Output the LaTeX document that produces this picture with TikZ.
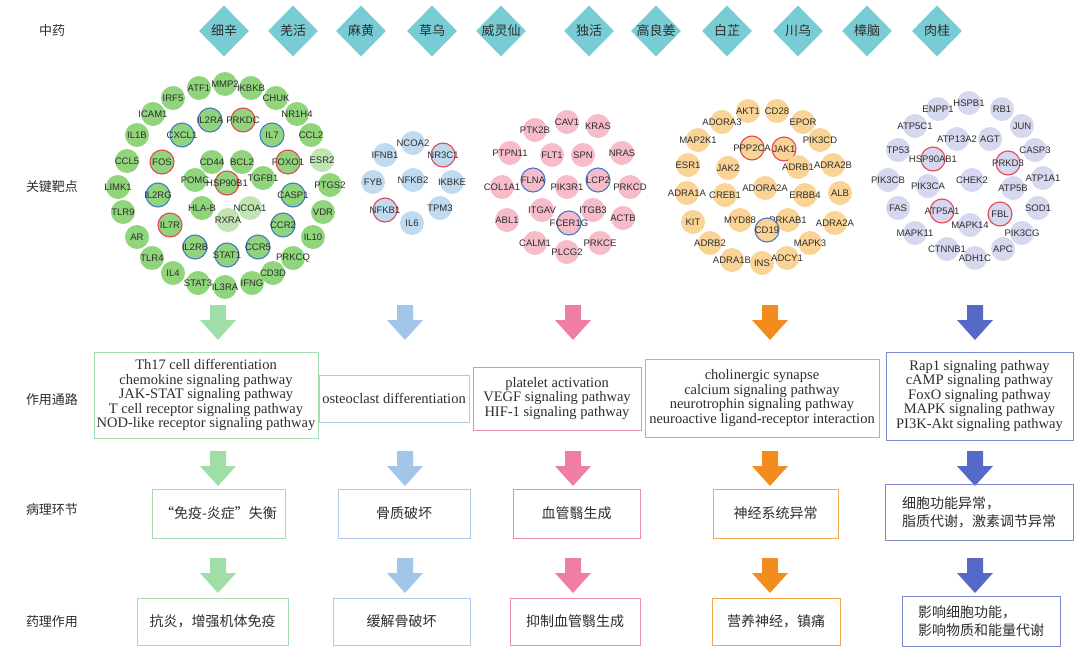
\documentclass[tikz,border=0pt]{standalone}
\usepackage{fontspec}
\setmainfont{Liberation Serif}
\newfontfamily\cjk{Noto Sans CJK SC}
\newfontfamily\gfont{Liberation Sans}
\usetikzlibrary{shapes.geometric}
\definecolor{dia}{RGB}{122,204,212}
\definecolor{gn}{RGB}{144,212,124}
\definecolor{gnl}{RGB}{192,228,178}
\definecolor{bl}{RGB}{192,218,240}
\definecolor{pk}{RGB}{246,188,202}
\definecolor{og}{RGB}{250,212,150}
\definecolor{pu}{RGB}{214,216,240}
\definecolor{ringr}{RGB}{228,70,85}
\definecolor{ringb}{RGB}{70,120,200}
\definecolor{agn}{RGB}{160,222,168}
\definecolor{abl}{RGB}{162,198,234}
\definecolor{apk}{RGB}{240,125,165}
\definecolor{aog}{RGB}{242,140,30}
\definecolor{apu}{RGB}{85,105,200}
\definecolor{bgn}{RGB}{165,222,180}
\definecolor{bbl}{RGB}{172,202,236}
\definecolor{bpk}{RGB}{240,140,175}
\definecolor{bog}{RGB}{245,165,80}
\definecolor{bpu}{RGB}{125,135,212}
\definecolor{txt}{RGB}{45,45,45}
\tikzset{
  gene/.style={circle, minimum size=24pt, inner sep=0pt, font=\gfont\fontsize{9.5}{9.5}\selectfont, text=txt},
  rr/.style={draw=ringr, line width=1.1pt},
  rb/.style={draw=ringb, line width=1.1pt},
  nn/.style={},
  lt/.style={fill=gnl},
  dmd/.style={diamond, fill=dia, minimum width=50pt, minimum height=51pt, inner sep=0pt},
  dlab/.style={font=\cjk\fontsize{13}{15}\selectfont, text=txt},
  rowlab/.style={font=\cjk\fontsize{13}{15}\selectfont, text=txt},
  pbox/.style={draw, line width=0.9pt, align=center, inner sep=0pt, text=txt, font=\fontsize{14.5}{14.5}\selectfont},
  cbox/.style={draw, line width=0.9pt, inner sep=0pt, text=txt, font=\cjk\fontsize{14}{18}\selectfont},
  barrow/.pic={\fill (-8,0) -- (8,0) -- (8,15) -- (18,15) -- (0,35) -- (-18,15) -- (-8,15) -- cycle;}
}
\begin{document}
\begin{tikzpicture}[x=1pt, y=-1pt]
\useasboundingbox (0,0) rectangle (1080,654);
% row labels
\node[rowlab] (l1) at (52,31) {中药};
\node[rowlab] (l2) at (52,187) {关键靶点};
\node[rowlab] (l3) at (52,400) {作用通路};
\node[rowlab] (l4) at (52,510) {病理环节};
\node[rowlab] (l5) at (52,622) {药理作用};
% herbs
\foreach \n/\x/\t in {h1/224/细辛, h2/293/羌活, h3/361/麻黄, h4/432/草乌, h5/501/威灵仙, h6/589/独活, h7/656/高良姜, h8/727/白芷, h9/798/川乌, h10/867/樟脑, h11/937/肉桂}
  \node[dmd, label={[dlab]center:\t}] (\n) at (\x,31) {};
% green cluster
\foreach \n/\x/\y/\s in {ATF1/199/88/nn, MMP2/225/84/nn, IKBKB/251/88/nn, IRF5/173/98/nn, CHUK/276/98/nn,
  ICAM1/153/114/nn, NR1H4/297/114/nn, IL2RA/210/120/rb, PRKDC/243/120/rr, IL1B/137/135/nn, CXCL1/182/135/rb,
  IL7/272/135/rb, CCL2/311/135/nn, CCL5/127/161/nn, FOS/162/162/rr, CD44/212/162/nn, BCL2/242/162/nn,
  FOXO1/288/162/rr, ESR2/322/160/lt, POMC/195/180/nn, HSP90B1/227/183/rr, TGFB1/263/178/nn,
  LIMK1/118/187/nn, PTGS2/330/185/nn, IL2RG/158/195/rb, CASP1/293/195/rb, HLA-B/202/208/nn, NCOA1/250/208/lt,
  TLR9/123/212/nn, VDR/323/212/nn, RXRA/228/220/lt, IL7R/170/225/rr, CCR2/283/225/rb, AR/137/237/nn,
  IL10/313/237/nn, IL2RB/195/247/rb, STAT1/227/255/rb, CCR5/258/247/rb, TLR4/152/258/nn, PRKCQ/293/258/nn,
  IL4/173/273/nn, CD3D/273/273/nn, STAT3/198/283/nn, IL3RA/225/287/nn, IFNG/252/283/nn}
  \node[gene, fill=gn, \s] (\n) at (\x,\y) {\makebox[0pt]{\n}};
% blue cluster
\foreach \n/\x/\y/\s in {NCOA2/413/143/nn, IFNB1/385/155/nn, NR3C1/443/155/rr, FYB/373/182/nn, NFKB2/413/180/nn,
  IKBKE/452/182/nn, NFKB1/385/210/rr, TPM3/440/208/nn, IL6/412/223/nn}
  \node[gene, fill=bl, \s] (\n) at (\x,\y) {\makebox[0pt]{\n}};
% pink cluster
\foreach \n/\x/\y/\s in {CAV1/567/122/nn, PTK2B/535/130/nn, KRAS/598/126/nn, PTPN11/510/153/nn, FLT1/552/155/nn,
  SPN/583/155/nn, NRAS/622/153/nn, COL1A1/502/187/nn, FLNA/533/180/rb, PIK3R1/567/187/nn, LCP2/598/180/rb,
  PRKCD/630/187/nn, ITGAV/542/210/nn, ITGB3/593/210/nn, ABL1/507/220/nn, FCER1G/569/223/rb, ACTB/623/218/nn,
  CALM1/535/243/nn, PRKCE/600/243/nn, PLCG2/567/252/nn}
  \node[gene, fill=pk, \s] (\n) at (\x,\y) {\makebox[0pt]{\n}};
% orange cluster
\foreach \n/\x/\y/\s in {AKT1/748/111/nn, CD28/777/111/nn, ADORA3/722/122/nn, EPOR/803/122/nn, MAP2K1/698/140/nn,
  PIK3CD/820/140/nn, PPP2CA/752/148/rr, JAK1/784/149/rr, ESR1/688/165/nn, JAK2/728/168/nn, ADRB1/798/167/nn,
  ADRA2B/833/165/nn, ADORA2A/765/188/nn, ADRA1A/687/193/nn, CREB1/725/195/nn, ERBB4/805/195/nn, ALB/840/193/nn,
  KIT/693/222/nn, MYD88/740/220/nn, PRKAB1/788/220/nn, ADRA2A/835/223/nn, CD19/767/230/rb, ADRB2/710/243/nn,
  MAPK3/810/243/nn, ADRA1B/732/260/nn, INS/762/263/nn, ADCY1/787/258/nn}
  \node[gene, fill=og, \s] (\n) at (\x,\y) {\makebox[0pt]{\n}};
% purple cluster
\foreach \n/\x/\y/\s in {HSPB1/969/103/nn, ENPP1/938/109/nn, RB1/1002/109/nn, ATP5C1/915/126/nn, JUN/1022/126/nn,
  ATP13A2/957/139/nn, AGT/990/139/nn, TP53/898/150/nn, CASP3/1035/150/nn, HSP90AB1/933/159/rr, PRKD3/1008/163/rr,
  PIK3CB/888/180/nn, PIK3CA/928/186/nn, CHEK2/972/180/nn, ATP5B/1013/188/nn, ATP1A1/1043/178/nn, FAS/898/208/nn,
  ATP5A1/942/211/rr, FBL/1000/214/rr, SOD1/1038/208/nn, MAPK14/970/225/nn, MAPK11/915/233/nn, PIK3CG/1022/233/nn,
  CTNNB1/947/249/nn, APC/1003/249/nn, ADH1C/975/258/nn}
  \node[gene, fill=pu, \s] (\n) at (\x,\y) {\makebox[0pt]{\n}};
% arrows
\foreach \x/\c in {218/agn, 405/abl, 573/apk, 770/aog, 975/apu}{
  \pic[fill=\c] at (\x,305) {barrow};
  \pic[fill=\c] at (\x,451) {barrow};
  \pic[fill=\c] at (\x,558) {barrow};
}
% pathways
\node[pbox, draw=bgn, minimum width=224pt, minimum height=86pt] (p1) at (206,395)
  {Th17 cell differentiation\\chemokine signaling pathway\\JAK-STAT signaling pathway\\T cell receptor signaling pathway\\NOD-like receptor signaling pathway};
\node[pbox, draw=bbl, minimum width=150pt, minimum height=47pt] (p2) at (394,398.5) {osteoclast differentiation};
\node[pbox, draw=bpk, minimum width=168pt, minimum height=63pt] (p3) at (557,398.5)
  {platelet activation\\VEGF signaling pathway\\HIF-1 signaling pathway};
\node[pbox, draw=bog, minimum width=234pt, minimum height=78pt] (p4) at (762,398)
  {cholinergic synapse\\calcium signaling pathway\\neurotrophin signaling pathway\\neuroactive ligand-receptor interaction};
\node[pbox, draw=bpu, minimum width=187pt, minimum height=88pt] (p5) at (979.5,396)
  {Rap1 signaling pathway\\cAMP signaling pathway\\FoxO signaling pathway\\MAPK signaling pathway\\PI3K-Akt signaling pathway};
% pathology
\node[cbox, draw=bgn, minimum width=133pt, minimum height=49pt] (q1) at (218.5,513.5) {“免疫-炎症”失衡};
\node[cbox, draw=bbl, minimum width=132pt, minimum height=49pt] (q2) at (404,513.5) {骨质破坏};
\node[cbox, draw=bpk, minimum width=127pt, minimum height=49pt] (q3) at (576.5,513.5) {血管翳生成};
\node[cbox, draw=bog, minimum width=125pt, minimum height=49pt] (q4) at (775.5,513.5) {神经系统异常};
\node[cbox, draw=bpu, minimum width=188pt, minimum height=56pt, align=left] (q5) at (979,512) {细胞功能异常，\\脂质代谢，激素调节异常};
% pharmacology
\node[cbox, draw=bgn, minimum width=151pt, minimum height=47pt] (r1) at (212.5,621.5) {抗炎，增强机体免疫};
\node[cbox, draw=bbl, minimum width=137pt, minimum height=47pt] (r2) at (401.5,621.5) {缓解骨破坏};
\node[cbox, draw=bpk, minimum width=130pt, minimum height=47pt] (r3) at (575,621.5) {抑制血管翳生成};
\node[cbox, draw=bog, minimum width=128pt, minimum height=47pt] (r4) at (776,621.5) {营养神经，镇痛};
\node[cbox, draw=bpu, minimum width=158pt, minimum height=50pt, align=left] (r5) at (981,621) {影响细胞功能，\\影响物质和能量代谢};
\end{tikzpicture}
\end{document}
